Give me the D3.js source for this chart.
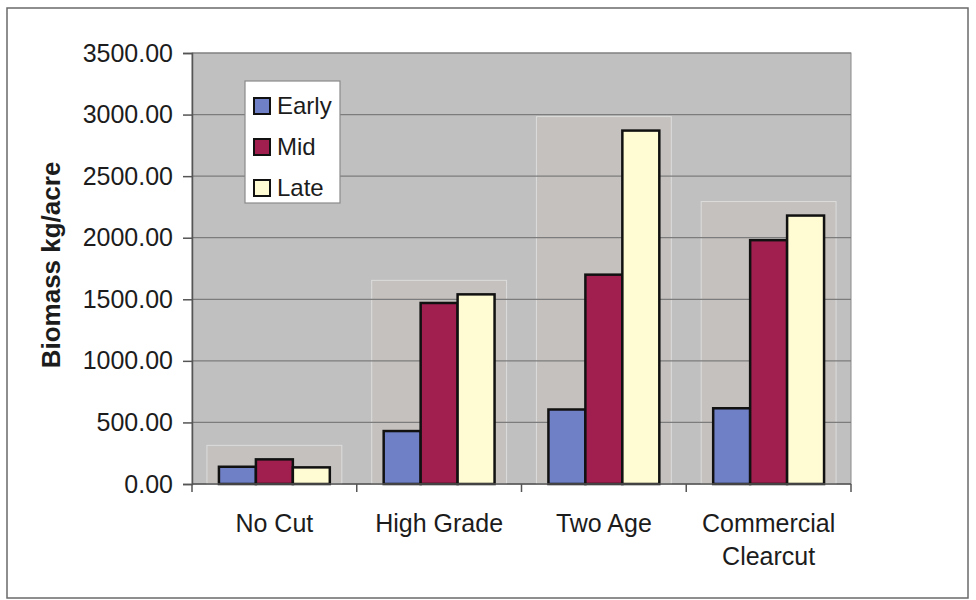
<!DOCTYPE html>
<html>
<head>
<meta charset="utf-8">
<script src="https://cdn.jsdelivr.net/npm/d3@7"></script>
<style>
  html, body { margin: 0; padding: 0; background: #fff; }
  svg { display: block; }
  text { font-family: "Liberation Sans", Arial, sans-serif; fill: #1c1c1c; }
</style>
</head>
<body>
<svg id="chart" width="976" height="600"></svg>
<script>
// Biomass by harvest treatment and stage
const categories = ["No Cut", "High Grade", "Two Age", "Commercial Clearcut"];
const categoryLines = [["No Cut"], ["High Grade"], ["Two Age"], ["Commercial", "Clearcut"]];
const seriesNames = ["Early", "Mid", "Late"];
const early = [140, 430, 605, 615];
const mid = [200, 1470, 1700, 1980];
const late = [135, 1540, 2870, 2180];
const yTicks = [0, 500, 1000, 1500, 2000, 2500, 3000, 3500];
const seriesColors = ["#7080c6", "#a11f4f", "#fffbd2"];

const series = [early, mid, late];
const rows = categories.map((c, i) => ({ cat: c, values: series.map((s, j) => ({ key: seriesNames[j], value: s[i] })) }));

const svg = d3.select("#chart");
const plot = { left: 192, right: 851, top: 53, bottom: 484 };

// outer frame
svg.append("rect").attr("x", 7).attr("y", 8).attr("width", 961).attr("height", 590)
  .attr("fill", "#fff").attr("stroke", "#6a6a6a").attr("stroke-width", 1.5);

const x0 = d3.scaleBand().domain(categories).range([plot.left, plot.right]).paddingInner(0.327).paddingOuter(0.1635);
const x1 = d3.scaleBand().domain(seriesNames).range([0, x0.bandwidth()]);
const y = d3.scaleLinear().domain([0, 3500]).range([plot.bottom, plot.top]);

// plot area
svg.append("rect").attr("x", plot.left).attr("y", plot.top)
  .attr("width", plot.right - plot.left).attr("height", plot.bottom - plot.top)
  .attr("fill", "#c0c0c0").attr("stroke", "#8a8a8a").attr("stroke-width", 1);

// light panels behind each group
svg.append("g").selectAll("rect").data(rows).join("rect")
  .attr("x", d => x0(d.cat) - 12)
  .attr("y", d => y(d3.max(d.values, v => v.value)) - 14)
  .attr("width", x0.bandwidth() + 24)
  .attr("height", d => plot.bottom - (y(d3.max(d.values, v => v.value)) - 14))
  .attr("fill", "#c5c1be").attr("stroke", "#dcdcdc").attr("stroke-width", 1);

// gridlines
svg.append("g").selectAll("line").data(yTicks.filter(t => t > 0)).join("line")
  .attr("x1", plot.left).attr("x2", plot.right)
  .attr("y1", d => y(d)).attr("y2", d => y(d))
  .attr("stroke", "#7c7c7c").attr("stroke-width", 1.2);

// bars
const groups = svg.append("g").selectAll("g").data(rows).join("g")
  .attr("transform", d => `translate(${x0(d.cat)},0)`);
groups.selectAll("rect").data(d => d.values).join("rect")
  .attr("x", d => x1(d.key))
  .attr("y", d => y(d.value))
  .attr("width", x1.bandwidth())
  .attr("height", d => y(0) - y(d.value))
  .attr("fill", (d, i) => seriesColors[i])
  .attr("stroke", "#111").attr("stroke-width", 2.5);

// y axis
const yAxis = d3.axisLeft(y).tickValues(yTicks).tickFormat(d3.format(".2f")).tickSize(9).tickPadding(10);
const gy = svg.append("g").attr("transform", `translate(${plot.left},0)`).call(yAxis);
gy.select(".domain").attr("stroke", "#555").attr("stroke-width", 1.5);
gy.selectAll(".tick line").attr("stroke", "#555").attr("stroke-width", 1.5);
gy.selectAll(".tick text").style("font-size", "25px").attr("fill", "#1c1c1c")
  .style("font-family", '"Liberation Sans", Arial, sans-serif');

// x axis baseline and ticks between categories
svg.append("line").attr("x1", plot.left).attr("x2", plot.right)
  .attr("y1", plot.bottom).attr("y2", plot.bottom).attr("stroke", "#555").attr("stroke-width", 1.5);
const step = x0.step();
svg.append("g").selectAll("line").data(d3.range(categories.length + 1)).join("line")
  .attr("x1", i => plot.left + i * step).attr("x2", i => plot.left + i * step)
  .attr("y1", plot.bottom).attr("y2", plot.bottom + 8)
  .attr("stroke", "#555").attr("stroke-width", 1.5);

// category labels
const labels = svg.append("g").selectAll("text").data(categories).join("text")
  .attr("x", d => x0(d) + x0.bandwidth() / 2)
  .attr("y", 532)
  .attr("text-anchor", "middle")
  .style("font-size", "25px");
labels.selectAll("tspan").data((d, i) => categoryLines[i]).join("tspan")
  .attr("x", function () { return d3.select(this.parentNode).attr("x"); })
  .attr("dy", (d, i) => i === 0 ? 0 : 33)
  .text(d => d);

// y axis title
svg.append("text")
  .attr("transform", "translate(60,265) rotate(-90)")
  .attr("text-anchor", "middle")
  .style("font-size", "26px").style("font-weight", "bold")
  .text("Biomass kg/acre");

// legend
const legend = svg.append("g").attr("transform", "translate(245,81)");
legend.append("rect").attr("width", 95).attr("height", 122)
  .attr("fill", "#fff").attr("stroke", "#8a8a8a").attr("stroke-width", 1.2);
const li = legend.selectAll("g").data(seriesNames).join("g")
  .attr("transform", (d, i) => `translate(0,${25 + i * 41})`);
li.append("rect").attr("x", 9).attr("y", -8).attr("width", 16).attr("height", 16)
  .attr("fill", (d, i) => seriesColors[i]).attr("stroke", "#111").attr("stroke-width", 2);
li.append("text").attr("x", 32).attr("y", 8).style("font-size", "24px").text(d => d);
</script>
</body>
</html>
